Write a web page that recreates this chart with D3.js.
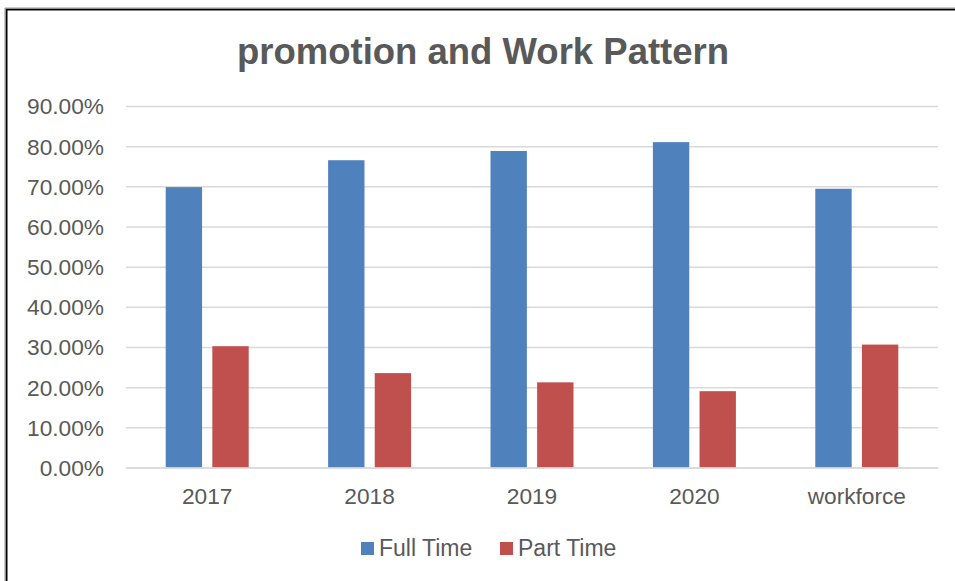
<!DOCTYPE html>
<html>
<head>
<meta charset="utf-8">
<script src="https://cdn.jsdelivr.net/npm/d3@7"></script>
<style>
  body { margin: 0; background: #fff; }
  text { font-family: Arial, "Liberation Sans", sans-serif; fill: #595959; }
</style>
</head>
<body>
<script>
// Daten
var categories = ["2017", "2018", "2019", "2020", "workforce"];
var seriesNames = ["Full Time", "Part Time"];
var fullTime = [69.8, 76.5, 78.8, 81.0, 69.4];
var partTime = [30.2, 23.5, 21.2, 19.0, 30.6];
var yTicks = [0, 10, 20, 30, 40, 50, 60, 70, 80, 90];
var colors = ["#4F81BD", "#C0504D"];

var W = 955, H = 581;
var plot = {left: 126, right: 938, top: 106, bottom: 467.5};

var svg = d3.select("body").append("svg")
  .attr("width", W).attr("height", H);

// Rahmen
svg.append("path")
  .attr("d", "M6.5," + H + " V9.5 H" + W)
  .attr("fill", "none").attr("stroke", "#000").attr("stroke-width", 2);
svg.append("path")
  .attr("d", "M5," + H + " V8 H" + W)
  .attr("fill", "none").attr("stroke", "#999").attr("stroke-width", 1);

// Titel
svg.append("text")
  .attr("x", 483).attr("y", 64)
  .attr("text-anchor", "middle")
  .style("font-size", "36.5px").style("font-weight", "bold")
  .text("promotion and Work Pattern");

// Skalen
var y = d3.scaleLinear().domain([0, 90]).range([plot.bottom, plot.top]);
var x0 = d3.scaleBand().domain(categories).range([plot.left, plot.right]);
var groupW = 83;
var x1 = d3.scaleBand().domain(seriesNames).range([0, groupW]).paddingInner(0.22);

// Gitterlinien + Y Achse
var yAxis = svg.append("g")
  .attr("transform", "translate(" + plot.left + ",0)")
  .call(d3.axisLeft(y).tickValues(yTicks)
    .tickSize(-(plot.right - plot.left))
    .tickPadding(22)
    .tickFormat(function (d) { return d.toFixed(2) + "%"; }));
yAxis.select(".domain").remove();
yAxis.selectAll(".tick line").attr("stroke", "#D9D9D9").attr("stroke-width", 1.5);
yAxis.selectAll(".tick text")
  .attr("dy", "0.35em")
  .style("font-size", "22.7px").style("font-family", "Arial, 'Liberation Sans', sans-serif")
  .attr("fill", "#595959");

// Balken
var rows = categories.map(function (c, i) { return {cat: c, vals: [fullTime[i], partTime[i]]}; });
var groups = svg.append("g").selectAll("g")
  .data(rows).enter().append("g")
  .attr("transform", function (d) {
    return "translate(" + (x0(d.cat) + (x0.bandwidth() - groupW) / 2) + ",0)";
  });
groups.selectAll("rect")
  .data(function (d) { return d.vals.map(function (v, j) { return {s: seriesNames[j], v: v, j: j}; }); })
  .enter().append("rect")
  .attr("x", function (d) { return x1(d.s); })
  .attr("width", x1.bandwidth())
  .attr("y", function (d) { return y(d.v); })
  .attr("height", function (d) { return y(0) - y(d.v); })
  .attr("fill", function (d) { return colors[d.j]; });

// X Achse
var xAxis = svg.append("g")
  .attr("transform", "translate(0," + plot.bottom + ")")
  .call(d3.axisBottom(x0).tickSize(0).tickPadding(20));
xAxis.select(".domain").attr("stroke", "#D9D9D9").attr("stroke-width", 1.5);
xAxis.selectAll(".tick text")
  .attr("dy", "0.71em")
  .style("font-size", "22.7px").style("font-family", "Arial, 'Liberation Sans', sans-serif")
  .attr("fill", "#595959");

// Legende
var legendX = [361, 500];
var legend = svg.append("g").selectAll("g")
  .data(seriesNames).enter().append("g")
  .attr("transform", function (d, i) { return "translate(" + legendX[i] + ",542)"; });
legend.append("rect").attr("width", 13).attr("height", 13)
  .attr("fill", function (d, i) { return colors[i]; });
legend.append("text").attr("x", 18).attr("y", 14)
  .style("font-size", "23px")
  .text(function (d) { return d; });
</script>
</body>
</html>
